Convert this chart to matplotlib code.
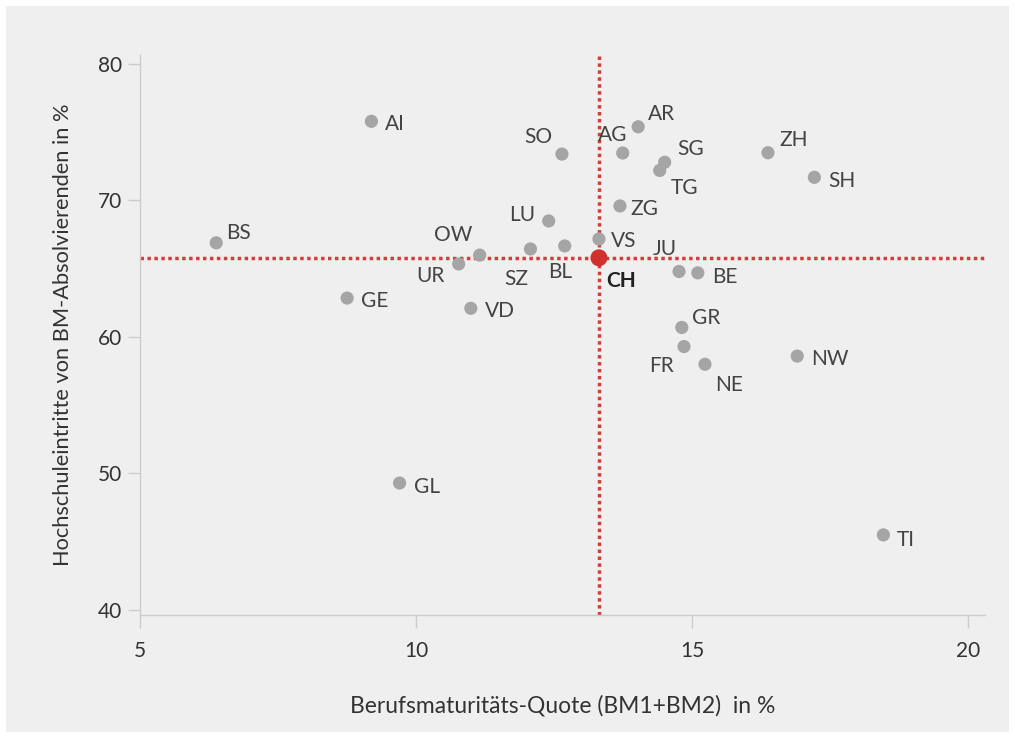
import matplotlib.pyplot as plt
from matplotlib.patches import Rectangle

plt.rcParams["font.family"] = ["Lato", "DejaVu Sans"]

# Kantone: Berufsmaturitäts-Quote (x) und Hochschuleintritte (y)
cantons = ["AI", "BS", "GE", "GL", "OW", "UR", "VD", "SZ", "BL", "LU", "SO",
           "VS", "AG", "ZG", "AR", "SG", "TG", "JU", "BE", "GR", "FR", "NE",
           "NW", "ZH", "SH", "TI"]
bm_quote = [9.19, 6.38, 8.75, 9.70, 11.15, 10.77, 10.99, 12.07, 12.69, 12.40, 12.64,
            13.31, 13.74, 13.69, 14.02, 14.50, 14.41, 14.76, 15.10, 14.81, 14.85, 15.23,
            16.90, 16.37, 17.21, 18.46]
hs_eintritt = [75.8, 66.9, 62.85, 49.3, 66.0, 65.35, 62.1, 66.45, 66.67, 68.5, 73.4,
               67.18, 73.48, 69.6, 75.4, 72.8, 72.2, 64.8, 64.7, 60.7, 59.3, 58.0,
               58.6, 73.5, 71.7, 45.5]
ch_x, ch_y = 13.31, 65.8

# label offsets in pixels (dx, dy, ha)
offsets = {
    "AI": (14, -3, "left"), "BS": (10, 10, "left"), "GE": (14, -3, "left"),
    "GL": (14, -4, "left"), "OW": (-7, 20, "right"), "UR": (-14, -12, "right"),
    "VD": (14, -3, "left"), "SZ": (-2, -30, "right"), "BL": (8, -26, "right"),
    "LU": (-13, 6, "right"), "SO": (-10, 17, "right"), "VS": (12, -2, "left"),
    "AG": (-10, 18, "center"), "ZG": (10, -3, "left"), "AR": (10, 13, "left"),
    "SG": (13, 13, "left"), "TG": (11, -18, "left"), "JU": (-14, 22, "center"),
    "BE": (14, -4, "left"), "GR": (10, 9, "left"), "FR": (-10, -19, "right"),
    "NE": (10, -21, "left"), "NW": (14, -3, "left"), "ZH": (11, 13, "left"),
    "SH": (14, -4, "left"), "TI": (13, -5, "left"),
}

fig = plt.figure(figsize=(10.15, 7.38), dpi=100, facecolor="white")
fig.patches.append(Rectangle((6 / 1015, 6 / 738), 1003 / 1015, 726 / 738,
                             transform=fig.transFigure, facecolor="#efefef",
                             edgecolor="none", zorder=-10))
ax = fig.add_axes([140 / 1015, 1 - 615 / 738, 845 / 1015, 560 / 738])
ax.set_facecolor("none")

# CH reference lines
ax.axvline(ch_x, color="#d93a33", linestyle=(0, (1, 1)), linewidth=2.5, zorder=1)
ax.axhline(ch_y, color="#d93a33", linestyle=(0, (1, 1)), linewidth=2.5, zorder=1)

ax.scatter(bm_quote, hs_eintritt, s=90, color="#a5a5a5", edgecolors="none", zorder=3)
ax.scatter([ch_x], [ch_y], s=150, color="#d0302e", edgecolors="none", zorder=4)

for name, x, y in zip(cantons, bm_quote, hs_eintritt):
    dx, dy, ha = offsets[name]
    ax.annotate(name, (x, y), xytext=(dx, dy), textcoords="offset pixels",
                ha=ha, va="center", fontsize=15, color="#444444", zorder=5)
ax.annotate("CH", (ch_x, ch_y), xytext=(7, -23), textcoords="offset pixels",
            ha="left", va="center", fontsize=15, fontweight="bold",
            color="#222222", zorder=5)

ax.set_xlim(5, 20.3)
ax.set_ylim(39.63, 80.66)
ax.set_xticks([5, 10, 15, 20])
ax.set_yticks([40, 50, 60, 70, 80])

for side in ["top", "right"]:
    ax.spines[side].set_visible(False)
for side in ["left", "bottom"]:
    ax.spines[side].set_color("#cccccc")
    ax.spines[side].set_linewidth(1)
ax.tick_params(colors="#cccccc", labelcolor="#333333", labelsize=15, length=9, width=1)
ax.tick_params(axis="x", pad=10)
ax.tick_params(axis="y", pad=4)

ax.set_xlabel("Berufsmaturitäts-Quote (BM1+BM2)  in %", fontsize=16.5,
              color="#333333", labelpad=24)
ax.set_ylabel("Hochschuleintritte von BM-Absolvierenden in %", fontsize=15.7,
              color="#333333", labelpad=18)

fig.savefig("out.png", dpi=100, facecolor="white")
